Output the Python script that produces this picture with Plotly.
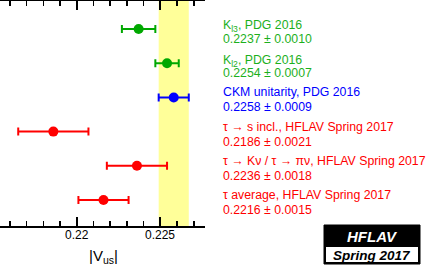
import plotly.graph_objects as go

# ---- data ----
names = ["K<sub>l3</sub>, PDG 2016",
         "K<sub>l2</sub>, PDG 2016",
         "CKM unitarity, PDG 2016",
         "τ → s incl., HFLAV Spring 2017",
         "τ → Kν / τ → πν, HFLAV Spring 2017",
         "τ average, HFLAV Spring 2017"]
values = [0.2237, 0.2254, 0.2258, 0.2186, 0.2236, 0.2216]
errors = [0.0010, 0.0007, 0.0009, 0.0021, 0.0018, 0.0015]
marker_colors = ["#00a800", "#00a800", "#0000ff", "#ff0000", "#ff0000", "#ff0000"]
text_colors = ["#1cb01c", "#1cb01c", "#0000ff", "#ff0000", "#ff0000", "#ff0000"]
band_center = 0.2258
band_err = 0.0009
x_range = [0.21541, 0.22767]
tick_vals = [0.22, 0.225]
tick_text = ["0.22", "0.225"]

W, H = 432, 270
PL, PR, PT, PB = 0, 205, 1, 226  # plot area pixels


def px(x):
    return (x - PL) / (PR - PL)


def py(y):
    return (PB - y) / (PB - PT)


n = len(values)
ypos = list(range(n, 0, -1))

fig = go.Figure()
for v, e, c, y in zip(values, errors, marker_colors, ypos):
    fig.add_trace(go.Scatter(
        x=[v], y=[y], mode="markers",
        marker=dict(color=c, size=10, symbol="circle"),
        error_x=dict(type="data", array=[e], color=c, thickness=2, width=4),
        showlegend=False, cliponaxis=False, hoverinfo="skip"))

shapes = [dict(type="rect", xref="x", yref="paper",
               x0=band_center - band_err, x1=band_center + band_err, y0=0, y1=1,
               fillcolor="#ffff99", line=dict(width=0), layer="below")]

annotations = []
row_h = 34.2
FONT = "Liberation Sans, Arial"
for i, (nm, v, e, tc) in enumerate(zip(names, values, errors, text_colors)):
    cy = 29 + i * row_h
    shift = 2.5 if "<sub>" in nm else 0
    annotations.append(dict(text=nm, x=px(221), y=py(cy - 5 + shift), xref="paper", yref="paper",
                            xanchor="left", yanchor="middle", showarrow=False,
                            font=dict(family=FONT, size=12.3, color=tc)))
    annotations.append(dict(text=f"{v:.4f} ± {e:.4f}", x=px(221), y=py(cy + 10),
                            xref="paper", yref="paper", xanchor="left", yanchor="middle",
                            showarrow=False,
                            font=dict(family=FONT, size=12.3, color=tc)))

# tick labels
for tv, tt in zip(tick_vals, tick_text):
    annotations.append(dict(text=tt, x=tv, y=py(235), xref="x", yref="paper",
                            xanchor="center", yanchor="middle", showarrow=False,
                            font=dict(family=FONT, size=12, color="black")))

# axis title
annotations.append(dict(text="|V<sub>us</sub>|", x=px(103), y=py(256), xref="paper", yref="paper",
                        xanchor="center", yanchor="middle", showarrow=False,
                        font=dict(family=FONT, size=15, color="black")))

# HFLAV logo
bx0, bx1, by0, bmid, by1 = 324, 420, 225, 247, 264
shapes.append(dict(type="rect", xref="paper", yref="paper",
                   x0=px(bx0), x1=px(bx1), y0=py(by1), y1=py(by0),
                   fillcolor="black", line=dict(color="black", width=1)))
shapes.append(dict(type="rect", xref="paper", yref="paper",
                   x0=px(bx0 + 2), x1=px(bx1 - 2), y0=py(by1 - 2), y1=py(bmid),
                   fillcolor="white", line=dict(width=0)))
annotations.append(dict(text="<b><i>HFLAV</i></b>", x=px((bx0 + bx1) / 2), y=py(236),
                        xref="paper", yref="paper", xanchor="center", yanchor="middle",
                        showarrow=False,
                        font=dict(family=FONT, size=15, color="white")))
annotations.append(dict(text="<b><i>Spring 2017</i></b>", x=px((bx0 + bx1) / 2), y=py(255.5),
                        xref="paper", yref="paper", xanchor="center", yanchor="middle",
                        showarrow=False,
                        font=dict(family=FONT, size=13.5, color="black")))

fig.update_layout(
    width=W, height=H,
    margin=dict(l=PL, r=W - PR, t=PT, b=H - PB, pad=0),
    plot_bgcolor="white", paper_bgcolor="white",
    shapes=shapes, annotations=annotations,
    hovermode=False,
    xaxis=dict(range=x_range, showgrid=False, zeroline=False,
               showline=True, linecolor="black", linewidth=2, mirror="ticks",
               ticks="inside", ticklen=9, tickwidth=2, tickcolor="black",
               tickmode="array", tickvals=tick_vals, showticklabels=False,
               minor=dict(dtick=0.001, tick0=0.22, ticks="inside", ticklen=5,
                          tickwidth=1.5, tickcolor="black", showgrid=False)),
    yaxis=dict(range=[0.24, 6.82], visible=False, showgrid=False, zeroline=False),
)

fig.write_html("out.html", config={"displayModeBar": False, "staticPlot": True},
               post_script="document.body.style.margin='0';document.body.style.overflow='hidden';")
